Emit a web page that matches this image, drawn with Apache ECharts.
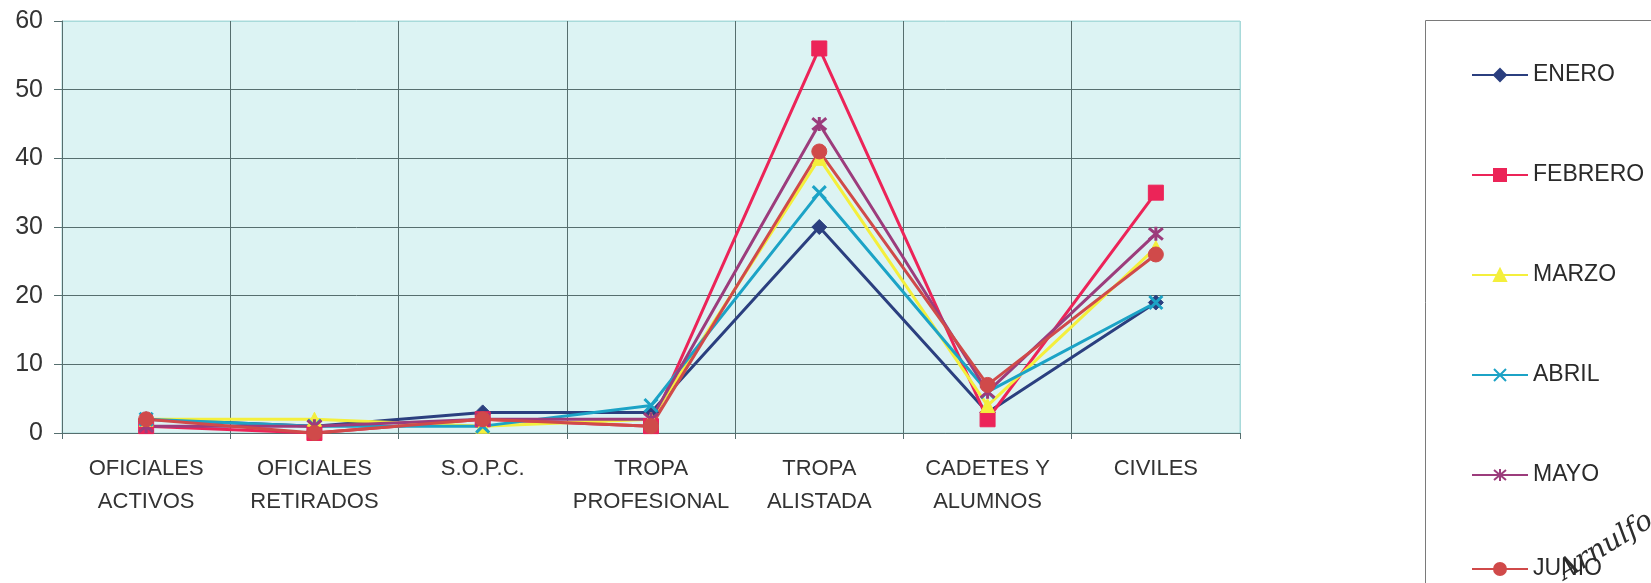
<!DOCTYPE html>
<html>
<head>
<meta charset="utf-8">
<title>Personal por categoría</title>
<script src="https://cdn.jsdelivr.net/npm/echarts@6/dist/echarts.min.js"></script>
<style>
  html, body { margin: 0; padding: 0; background: #ffffff; }
  #chart { width: 1651px; height: 583px; }
</style>
</head>
<body>
<div id="chart"></div>
<script>
// Categorías del eje X
const categorias = [
  'OFICIALES\nACTIVOS',
  'OFICIALES\nRETIRADOS',
  'S.O.P.C.',
  'TROPA\nPROFESIONAL',
  'TROPA\nALISTADA',
  'CADETES Y\nALUMNOS',
  'CIVILES'
];

// Valores mensuales por categoría
const enero   = [2, 1, 3, 3, 30, 3, 19];
const febrero = [1, 0, 2, 1, 56, 2, 35];
const marzo   = [2, 2, 1, 2, 40, 4, 27];
const abril   = [2, 1, 1, 4, 35, 6, 19];
const mayo    = [1, 1, 2, 2, 45, 6, 29];
const junio   = [2, 0, 2, 1, 41, 7, 26];

const meses = ['ENERO', 'FEBRERO', 'MARZO', 'ABRIL', 'MAYO', 'JUNIO'];
const valores = [enero, febrero, marzo, abril, mayo, junio];

const colores = ['#2b3f7f', '#ec2458', '#f4ef3c', '#1ca3c6', '#9c3c7c', '#d04a4a'];
const simbolos = [
  'diamond',
  'rect',
  'triangle',
  'path://M0,0L10,10M10,0L0,10',
  'path://M0,0L10,10M10,0L0,10M5,-1L5,11',
  'circle'
];
const tamanos = [15, 15, 14, 13, 14, 15];

const series = meses.map((mes, i) => {
  const trazo = i === 3 || i === 4;
  return {
    name: mes,
    type: 'line',
    data: valores[i],
    symbol: simbolos[i],
    symbolSize: tamanos[i],
    showAllSymbol: true,
    lineStyle: { color: colores[i], width: 3 },
    itemStyle: trazo
      ? { color: colores[i], borderColor: colores[i], borderWidth: 3 }
      : { color: colores[i], borderColor: colores[i], borderWidth: 1 },
    emphasis: { disabled: true },
    animation: false
  };
});

const gridOscuro = '#566e6e';
const gridClaro = '#a8dada';

const leyendaBase = {
  orient: 'vertical',
  left: 1466,
  itemWidth: 56,
  itemHeight: 15,
  itemGap: 76,
  selectedMode: false,
  textStyle: { fontSize: 23, color: '#2a2a2a', lineHeight: 24 }
};

const chart = echarts.init(document.getElementById('chart'), null, { renderer: 'canvas' });
chart.setOption({
  backgroundColor: '#ffffff',
  animation: false,
  textStyle: { fontFamily: 'Arial, "Liberation Sans", sans-serif' },
  grid: {
    left: 62, right: 411, top: 21, bottom: 150,
    show: true,
    backgroundColor: '#dcf3f3',
    borderColor: gridClaro,
    borderWidth: 1
  },
  legend: [
    Object.assign({}, leyendaBase, { top: 58, data: meses.slice(0, 5) }),
    Object.assign({}, leyendaBase, { top: 552, data: meses.slice(5) })
  ],
  xAxis: {
    type: 'category',
    data: categorias,
    boundaryGap: true,
    axisLine: { show: true, lineStyle: { color: gridOscuro, width: 1 } },
    axisTick: { show: true, length: 6, lineStyle: { color: gridOscuro } },
    splitLine: {
      show: true,
      lineStyle: {
        color: [gridOscuro, gridOscuro, gridOscuro, gridOscuro, gridOscuro, gridOscuro, gridOscuro, gridClaro],
        width: 1
      }
    },
    axisLabel: {
      interval: 0,
      margin: 19,
      fontSize: 22,
      lineHeight: 33,
      color: '#333333'
    }
  },
  yAxis: {
    type: 'value',
    min: 0,
    max: 60,
    interval: 10,
    axisLine: { show: true, lineStyle: { color: gridOscuro, width: 1 } },
    axisTick: { show: true, length: 8, lineStyle: { color: gridOscuro } },
    splitLine: {
      show: true,
      lineStyle: {
        color: [gridOscuro, gridOscuro, gridOscuro, gridOscuro, gridOscuro, gridOscuro, gridClaro],
        width: 1
      }
    },
    axisLabel: { fontSize: 25, color: '#333333', margin: 19 }
  },
  graphic: [
    {
      type: 'rect',
      left: 1423, top: 18,
      shape: { width: 300, height: 620 },
      style: { fill: 'none', stroke: '#7a7a7a', lineWidth: 1 },
      silent: true
    },
    {
      type: 'text',
      x: 1568, y: 586,
      rotation: 0.55,
      style: {
        text: 'Arnulfo',
        font: 'italic 28px "DejaVu Serif", serif',
        fill: '#2e2e2e',
        textVerticalAlign: 'bottom'
      },
      silent: true
    }
  ],
  series: series
});
</script>
</body>
</html>
